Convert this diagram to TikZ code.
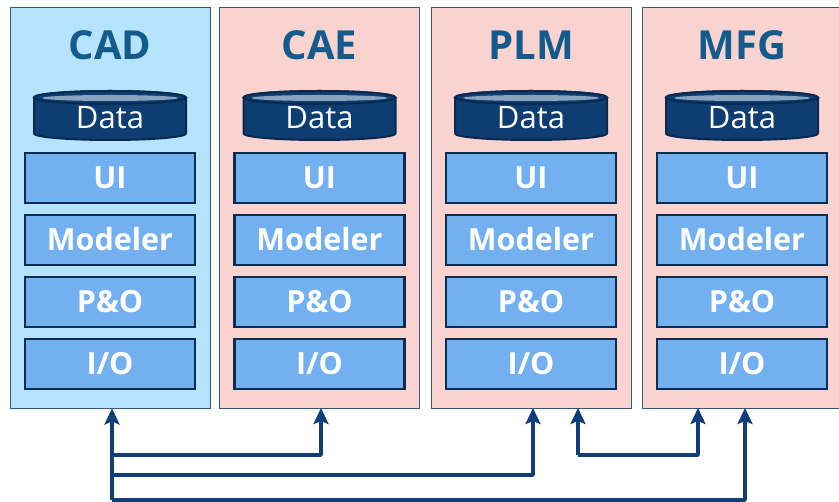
\documentclass[tikz,border=0pt]{standalone}
\usepackage{fontspec}
\setmainfont{Open Sans}
\usetikzlibrary{arrows.meta}
\definecolor{colblue}{HTML}{B5E2FD}
\definecolor{colpink}{HTML}{F8D3CF}
\definecolor{colline}{HTML}{34557A}
\definecolor{boxfill}{HTML}{73B0F0}
\definecolor{boxline}{HTML}{0D2C52}
\definecolor{titlec}{HTML}{135B8C}
\definecolor{cylfill}{HTML}{0E3D72}
\definecolor{cylline}{HTML}{082A50}
\definecolor{cyltop}{HTML}{8AA3BF}
\definecolor{arrc}{HTML}{0F3F7A}
\tikzset{
  column/.style={draw=colline, line width=0.9pt, minimum width=200pt, minimum height=401pt, inner sep=0pt},
  title/.style={text=titlec, font=\fontsize{40}{42}\selectfont\bfseries, anchor=base},
  layer/.style={draw=boxline, fill=boxfill, line width=2.5pt, minimum width=170pt, minimum height=50pt,
    inner sep=0pt, text=white, font=\fontsize{30.5}{31}\selectfont\bfseries, text height=21.5pt, text depth=0pt},
  datatext/.style={text=white, font=\fontsize{31}{32}\selectfont, text height=22pt, text depth=0pt, inner sep=0pt},
  arr/.style={draw=arrc, line width=3.5pt, line join=round, -{Stealth[length=16pt,width=15pt,inset=3pt]}}
}
\newcommand{\mycyl}[1]{%
  \fill[cylfill, draw=cylline, line width=2pt] (#1-76,97.5) -- (#1-76,133.5) arc[start angle=180, end angle=0, x radius=76, y radius=6.5] -- (#1+76,97.5) arc[start angle=0, end angle=-180, x radius=76, y radius=6.5] -- cycle;
  \fill[cylfill, draw=cylline, line width=2pt] (#1,97.5) ellipse[x radius=76, y radius=6.5];
  \fill[cyltop] (#1,98) ellipse[x radius=68, y radius=3];
}
\begin{document}
\begin{tikzpicture}[x=1pt,y=-1pt]
\useasboundingbox (0,0) rectangle (839,502);
% columns
\node[column, fill=colblue] (cad) at (110,207.5) {};
\node[column, fill=colpink] (cae) at (319.5,207.5) {};
\node[column, fill=colpink] (plm) at (531,207.5) {};
\node[column, fill=colpink] (mfg) at (742,207.5) {};
% titles
\node[title] (tcad) at (110,60) {CAD};
\node[title] (tcae) at (319.5,60) {CAE};
\node[title] (tplm) at (531,60) {PLM};
\node[title] (tmfg) at (742,60) {MFG};
% cylinders and layers
\foreach \cx/\nm in {110/cad, 319.5/cae, 531/plm, 742/mfg} {
  \mycyl{\cx}
  \node[datatext] (data\nm) at (\cx,118) {Data};
  \node[layer] (ui\nm) at (\cx,178) {UI};
  \node[layer] (mod\nm) at (\cx,240) {Modeler};
  \node[layer] (po\nm) at (\cx,302) {P\&O};
  \node[layer] (io\nm) at (\cx,364) {I/O};
}
% connectors
\coordinate (t0) at (112,500);
\coordinate (pa) at (578,455);
\draw[arr] (t0) -- (t0 |- cad.south);
\draw[arr] (112,455) -| (321,408);
\draw[arr] (112,475) -| (533,408);
\draw[arr] (t0) -| (745,408);
\draw[arr] (pa) -- (578,408);
\draw[arr] (pa) -| (698,408);
\end{tikzpicture}
\end{document}
